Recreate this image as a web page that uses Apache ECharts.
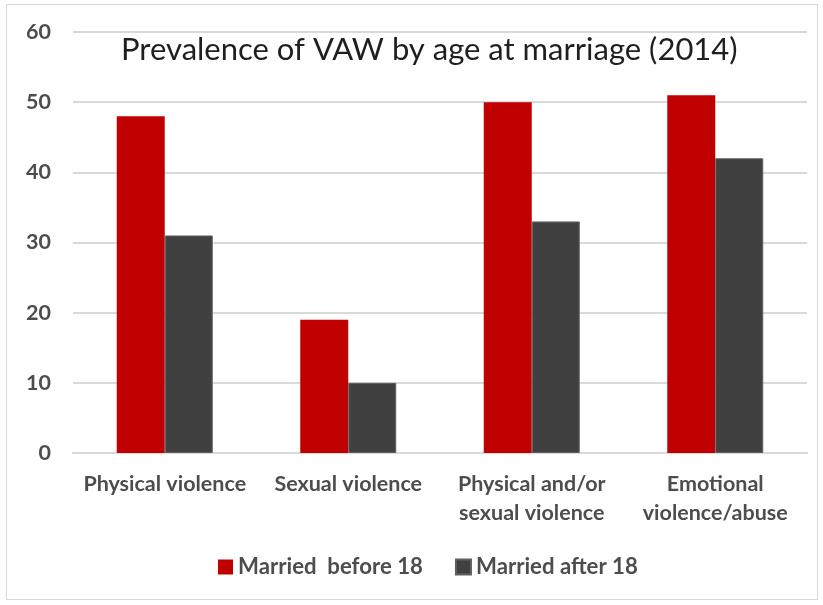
<!DOCTYPE html>
<html><head><meta charset="utf-8">
<script src="https://cdn.jsdelivr.net/npm/echarts@6/dist/echarts.min.js"></script>
<style>
html,body{margin:0;padding:0;background:#fff;}
#frame{position:absolute;left:6px;top:4px;width:812px;height:596px;border:1.5px solid #d9d9d9;box-sizing:border-box;}
#chart{position:absolute;left:0;top:0;width:823px;height:605px;}
</style></head>
<body>
<div id="frame"></div>
<div id="chart"></div>
<script>
const categories = ['Physical violence', 'Sexual violence', 'Physical and/or\nsexual violence', 'Emotional\nviolence/abuse'];
const marriedBefore18 = [48, 19, 50, 51];
const marriedAfter18 = [31, 10, 33, 42];
const yTicks = [0, 10, 20, 30, 40, 50, 60];

const font = 'Lato, "Open Sans", sans-serif';
const chart = echarts.init(document.getElementById('chart'));
chart.setOption({
  animation: false,
  title: {
    text: 'Prevalence of VAW by age at marriage (2014)',
    left: 116, top: 29,
    textStyle: { fontFamily: font, fontSize: 31, fontWeight: 'normal', color: '#1f1f1f' }
  },
  legend: {
    top: 551, left: 213,
    itemWidth: 15, itemHeight: 15, itemGap: 32,
    textStyle: { fontFamily: font, fontSize: 22.2, color: '#4d4d4d', fontWeight: 'bold' },
    data: [
      { name: 'Married  before 18', icon: 'rect' },
      { name: 'Married after 18', icon: 'rect' }
    ]
  },
  grid: { left: 73, right: 16, top: 32, bottom: 152, containLabel: false },
  xAxis: {
    type: 'category', data: categories,
    axisLine: { show: true, lineStyle: { color: '#d9d9d9', width: 2 } },
    axisTick: { show: false },
    axisLabel: { fontFamily: font, fontSize: 21.5, color: '#4d4d4d', fontWeight: 'bold', margin: 17, lineHeight: 29, interval: 0 }
  },
  yAxis: {
    type: 'value', min: yTicks[0], max: yTicks[yTicks.length - 1], interval: 10,
    axisLine: { show: false }, axisTick: { show: false },
    splitLine: { lineStyle: { color: '#d9d9d9', width: 2 } },
    axisLabel: { fontFamily: font, fontSize: 21.5, color: '#4d4d4d', fontWeight: 'bold', margin: 22 }
  },
  series: [
    { name: 'Married  before 18', type: 'bar', data: marriedBefore18, barWidth: 48, barGap: '0%',
      itemStyle: { color: '#C00000' } },
    { name: 'Married after 18', type: 'bar', data: marriedAfter18, barWidth: 48,
      itemStyle: { color: '#404040', borderColor: '#606060', borderWidth: 1 } }
  ]
});
</script>
</body></html>
